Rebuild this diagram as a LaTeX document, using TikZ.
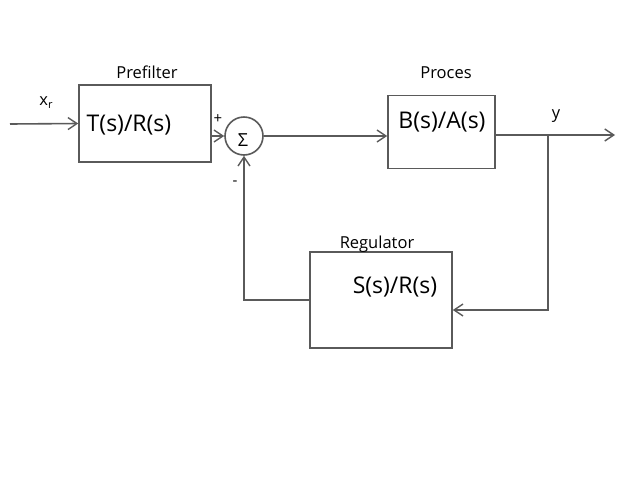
\documentclass[tikz,border=0pt]{standalone}
\usepackage{fontspec}
\setmainfont{Open Sans}
\usetikzlibrary{arrows.meta}
\definecolor{ink}{RGB}{90,90,90}
\tikzset{
  blockbox/.style={draw=ink, line width=1.6pt, rectangle, inner sep=0pt},
  bigtxt/.style={font=\fontsize{23}{28}\selectfont, inner sep=0pt},
  lbltxt/.style={font=\fontsize{16.5}{20}\selectfont, inner sep=0pt},
  sgn/.style={font=\fontsize{15}{17}\selectfont, inner sep=0pt},
  wire/.style={draw=ink, line width=1.6pt},
  arr/.style={wire, -{Straight Barb[length=9pt,width=12pt,line width=1.4pt]}},
}
\begin{document}
\begin{tikzpicture}[x=1pt,y=-1pt]
\useasboundingbox[fill=white] (0,0) rectangle (640,480);
% blocks
\node[blockbox, minimum width=132pt, minimum height=77pt] (pre) at (145,123.5) {};
\node[bigtxt] (pretxt) at (129,125) {T(s)/R(s)};
\node[lbltxt] (prelbl) at (147,72) {Prefilter};

\node[draw=ink, line width=1.6pt, circle, minimum size=38pt, inner sep=0pt] (sum) at (244,136) {};
\node[font=\fontsize{18}{20}\selectfont, inner sep=0pt] (sig) at (243,140) {Σ};
\node[sgn] (plus) at (218,119) {+};
\node[sgn] (minus) at (235,183) {-};

\node[blockbox, minimum width=107pt, minimum height=73pt] (proc) at (441.5,132) {};
\node[bigtxt] (proctxt) at (442,122) {B(s)/A(s)};
\node[lbltxt] (proclbl) at (446,73) {Proces};

\node[blockbox, minimum width=142pt, minimum height=96pt] (reg) at (381,300) {};
\node[bigtxt] (regtxt) at (395,287) {S(s)/R(s)};
\node[lbltxt] (reglbl) at (377,244) {Regulator};

\node[lbltxt] (ylbl) at (556,116) {y};
\node[lbltxt] (xlbl) at (46,103) {x\raisebox{-0.35ex}{\fontsize{11}{12}\selectfont r}};

% coordinates
\coordinate (in) at (10,124);
\coordinate (out) at (615,135);
\coordinate (br) at (548,135);
\coordinate (bd) at (548,310);

% connectors
\draw[arr] (in) -- (pre.west);
\draw[arr] (pre.east |- sum.west) -- (sum.west);
\draw[arr] (sum.east) -- (proc.west |- sum.east);
\draw[arr] (proc.east |- out) -- (out);
\draw[arr] (br) -- (bd) -- (reg.east |- bd);
\draw[arr] (reg.west) -| (sum.south);
\end{tikzpicture}
\end{document}
